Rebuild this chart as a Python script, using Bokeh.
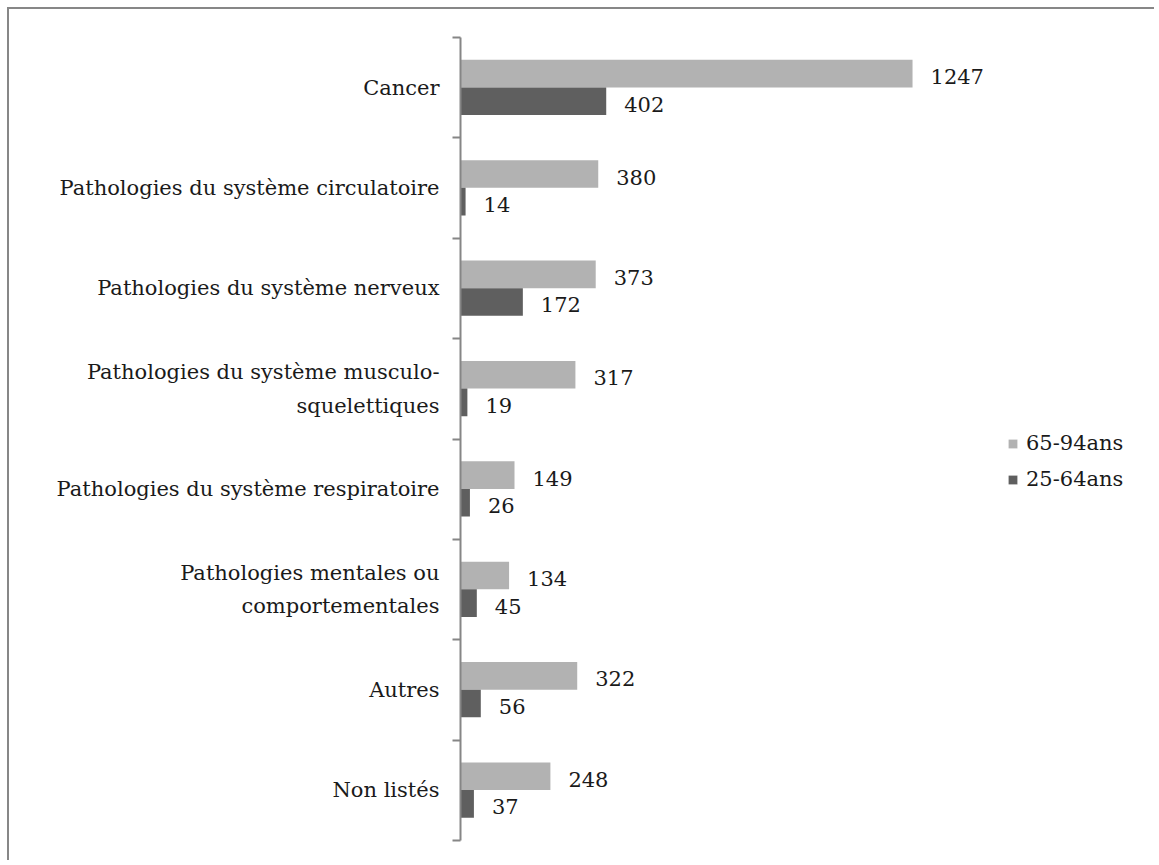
from bokeh.plotting import figure
from bokeh.models import ColumnDataSource, Range1d, FixedTicker, Legend, LegendItem, LabelSet
from bokeh.core.properties import value
from bokeh.embed import file_html
from bokeh.resources import INLINE

categories = [
    "Cancer",
    "Pathologies du système circulatoire",
    "Pathologies du système nerveux",
    "Pathologies du système musculo-\nsquelettiques",
    "Pathologies du système respiratoire",
    "Pathologies mentales ou\ncomportementales",
    "Autres",
    "Non listés",
]
vals_65_94 = [1247, 380, 373, 317, 149, 134, 322, 248]
vals_25_64 = [402, 14, 172, 19, 26, 45, 56, 37]
series_names = ["65-94ans", "25-64ans"]

LIGHT = "#b2b2b2"
DARK = "#5f5f5f"
AXIS = "#868686"
FONT = "DejaVu Serif"
FSIZE = "21px"

n = len(categories)
pos = [n - 1 - i for i in range(n)]

src_light = ColumnDataSource(dict(y=[p_ + 0.14 for p_ in pos], v=vals_65_94, t=[str(v) for v in vals_65_94]))
src_dark = ColumnDataSource(dict(y=[p_ - 0.135 for p_ in pos], v=vals_25_64, t=[str(v) for v in vals_25_64]))

p = figure(width=1147, height=853, x_range=Range1d(0, 1920), y_range=Range1d(-0.5, n - 0.5),
           min_border_left=451, min_border_right=0, min_border_top=28, min_border_bottom=22,
           toolbar_location=None, output_backend="svg")
p.styles = {"margin-left": "7px", "margin-top": "7px",
            "border-top": "2px solid #878787", "border-left": "2px solid #878787"}
p.outline_line_color = None
p.xaxis.visible = False
p.xgrid.visible = False
p.ygrid.visible = False

r1 = p.hbar(y="y", right="v", left=0, height=0.275, source=src_light, fill_color=LIGHT, line_color=None)
r2 = p.hbar(y="y", right="v", left=0, height=0.275, source=src_dark, fill_color=DARK, line_color=None)

for src in (src_light, src_dark):
    p.add_layout(LabelSet(x="v", y="y", text="t", source=src, x_offset=18, y_offset=-3,
                          text_baseline="middle", text_font=value(FONT), text_font_size=value(FSIZE),
                          text_color="#1a1a1a"))

ax = p.yaxis[0]
ax.ticker = FixedTicker(ticks=pos, minor_ticks=[k - 0.5 for k in range(n + 1)])
ax.major_label_overrides = {p_: c for p_, c in zip(pos, categories)}
ax.major_tick_line_color = None
ax.major_tick_out = 0
ax.major_tick_in = 0
ax.minor_tick_out = 8
ax.minor_tick_in = 0
ax.minor_tick_line_color = AXIS
ax.minor_tick_line_width = 2
ax.axis_line_color = AXIS
ax.axis_line_width = 2
ax.major_label_standoff = 13
ax.major_label_text_font = FONT
ax.major_label_text_font_size = FSIZE
ax.major_label_text_color = "#1a1a1a"
ax.major_label_text_line_height = 1.4

legend = Legend(items=[LegendItem(label=series_names[0], renderers=[r1]),
                       LegendItem(label=series_names[1], renderers=[r2])],
                location=(547, 349), orientation="vertical",
                glyph_width=11, glyph_height=11, label_standoff=8, spacing=12,
                padding=0, margin=0, border_line_color=None, background_fill_alpha=0,
                label_text_font=FONT, label_text_font_size=FSIZE, label_text_color="#1a1a1a",
                label_height=21)
p.add_layout(legend)

open("out.html", "w").write(file_html(p, INLINE))
